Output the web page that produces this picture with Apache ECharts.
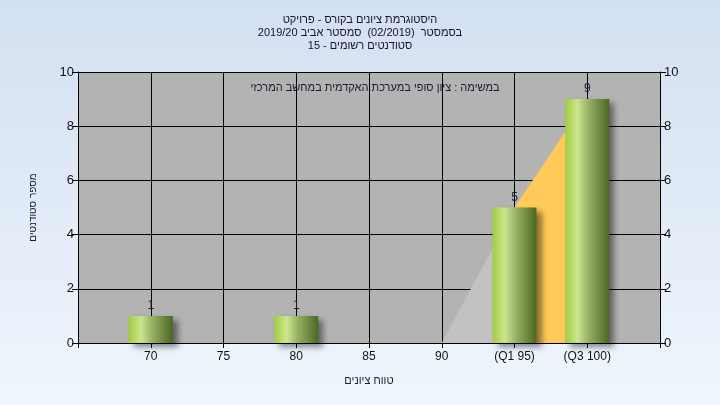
<!DOCTYPE html>
<html><head><meta charset="utf-8">
<script src="https://cdn.jsdelivr.net/npm/echarts@6/dist/echarts.min.js"></script>
<style>html,body{margin:0;padding:0;}#c{width:720px;height:405px;}</style>
</head><body><div id="c"></div>
<script>
var titleLines = ['היסטוגרמת ציונים בקורס - פרויקט', 'בסמסטר  (02/2019)  סמסטר אביב 2019/20', 'סטודנטים רשומים - 15'];
var subText = 'במשימה : ציון סופי במערכת האקדמית במחשב המרכזי';
var xName = 'טווח ציונים';
var yName = 'מספר סטודנטים';
var grades = [70, 75, 80, 85, 90, 95, 100];
var counts = [1, 0, 1, 0, 0, 5, 9];
var tickLabels = {95: '(Q1 95)', 100: '(Q3 100)'};
var lowerArea = [[90, 0], [95, 5]];
var upperArea = [[95, 5], [100, 9]];

var chart = echarts.init(document.getElementById('c'));
var font = 'Arial, "Liberation Sans", sans-serif';
var barGrad = new echarts.graphic.LinearGradient(0, 0, 1, 0, [
  {offset: 0, color: '#a2cd40'},
  {offset: 0.28, color: '#cce58e'},
  {offset: 0.55, color: '#94ad62'},
  {offset: 1, color: '#4b6822'}
]);
chart.setOption({
  backgroundColor: new echarts.graphic.LinearGradient(0, 0, 0, 1, [
    {offset: 0, color: '#d3e0f1'}, {offset: 1, color: '#eff6fd'}
  ]),
  animation: false,
  title: [{
    text: titleLines.join('\n'), left: 'center', top: 8,
    textStyle: {fontSize: 11, fontWeight: 'normal', color: '#1a1030', lineHeight: 13, fontFamily: font}
  }, {
    text: subText, left: 370, textAlign: 'center', top: 77,
    textStyle: {fontSize: 11, fontWeight: 'normal', color: '#1a1a30', fontFamily: font}
  }],
  grid: {left: 78, right: 60, top: 72, bottom: 62, show: true, backgroundColor: '#b3b3b3', borderWidth: 0},
  xAxis: {
    type: 'value', min: 65, max: 105, interval: 5,
    name: xName, nameLocation: 'middle', nameGap: 32,
    nameTextStyle: {fontSize: 11, color: '#1a1a30', fontFamily: font},
    axisLine: {show: true, lineStyle: {color: '#000'}},
    axisTick: {show: true, length: 5, lineStyle: {color: '#000'}},
    splitLine: {show: true, lineStyle: {color: '#000', width: 1}},
    axisLabel: {fontSize: 12, color: '#111', margin: 8, fontFamily: font,
      formatter: function (v) { if (v < 70 || v > 100) return ''; return tickLabels[v] || String(v); }}
  },
  yAxis: [{
    type: 'value', min: 0, max: 10, interval: 2, position: 'left',
    name: yName, nameLocation: 'middle', nameGap: 40,
    nameTextStyle: {fontSize: 10, color: '#1a1a30', fontFamily: font},
    axisLine: {show: true, lineStyle: {color: '#000'}},
    axisTick: {show: true, length: 6, lineStyle: {color: '#000'}},
    splitLine: {show: true, lineStyle: {color: '#000', width: 1}},
    axisLabel: {fontSize: 13, color: '#111', margin: 4, fontFamily: font}
  }, {
    type: 'value', min: 0, max: 10, interval: 2, position: 'right',
    axisLine: {show: true, lineStyle: {color: '#000'}},
    axisTick: {show: true, length: 6, lineStyle: {color: '#000'}},
    splitLine: {show: false},
    axisLabel: {fontSize: 13, color: '#111', margin: 4, fontFamily: font}
  }],
  series: [{
    type: 'line', data: lowerArea, symbol: 'none', lineStyle: {width: 0},
    areaStyle: {color: '#c2c2c2', opacity: 1}, z: 1
  }, {
    type: 'line', data: upperArea, symbol: 'none', lineStyle: {width: 0},
    areaStyle: {color: '#ffca57', opacity: 1}, z: 1
  }, {
    type: 'bar', barWidth: 44, z: 3,
    data: grades.map(function (g, i) { return [g, counts[i]]; }),
    itemStyle: {color: barGrad, shadowColor: 'rgba(0,0,0,0.45)', shadowBlur: 6, shadowOffsetX: 5, shadowOffsetY: 4},
    label: {show: true, position: 'top', distance: 4, fontSize: 12, color: '#1a2040', fontFamily: font,
      formatter: function (p) { return p.value[1] > 0 ? String(p.value[1]) : ''; }}
  }]
});
</script></body></html>
